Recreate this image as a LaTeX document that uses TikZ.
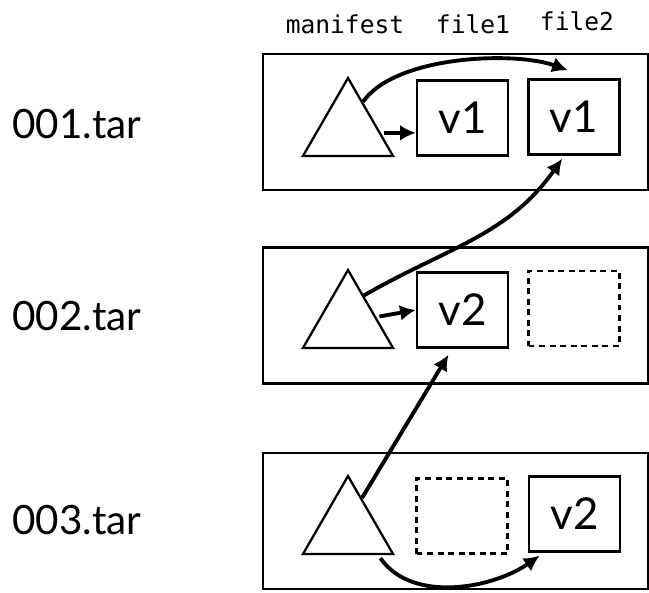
\documentclass[tikz,border=0pt]{standalone}
\usepackage{fontspec}
\setmainfont{Lato}
\setmonofont{DejaVu Sans Mono}
\usetikzlibrary{shapes.geometric,arrows.meta}

\tikzset{
  tarbox/.style={draw, line width=1.3pt, minimum width=7.7cm, minimum height=2.72cm, inner sep=0pt},
  manifest/.style={draw, line width=1.3pt, regular polygon, regular polygon sides=3, minimum size=2.08cm, inner sep=0pt},
  filebox/.style={draw, line width=1.3pt, minimum width=1.82cm, minimum height=1.5cm, inner sep=0pt, font=\fontsize{25}{30}\selectfont},
  emptybox/.style={filebox, line width=1.4pt, dash pattern=on 3.4pt off 2.6pt},
  tarname/.style={anchor=west, inner sep=0pt, font=\fontsize{23}{28}\selectfont},
  colname/.style={anchor=base, inner sep=0pt, font=\ttfamily\fontsize{14}{17}\selectfont},
  ref/.style={-{Latex[length=9pt,width=9pt]}, line width=2.2pt},
}

\begin{document}
\begin{tikzpicture}[x=0.02cm, y=-0.02cm]
  \useasboundingbox (0,0) rectangle (649,592);

  \node[colname] (cm) at (345,33) {manifest};
  \node[colname] (cf1) at (473,33) {file1};
  \node[colname] (cf2) at (577,30) {file2};

  \node[tarname] (n1) at (12,124) {001.tar};
  \node[tarname] (n2) at (12,316) {002.tar};
  \node[tarname] (n3) at (12,520) {003.tar};

  \node[tarbox] (tar1) at (455.5,122) {};
  \node[tarbox] (tar2) at (455.5,315.5) {};
  \node[tarbox] (tar3) at (455.5,521) {};

  \node[manifest] (m1) at (348,130) {};
  \node[manifest] (m2) at (348,322) {};
  \node[manifest] (m3) at (348,528) {};

  \node[filebox] (f11) at (462.5,118) {v1};
  \node[filebox] (f12) at (574,117) {v1};
  \node[filebox] (f21) at (462.5,310) {v2};
  \node[emptybox] (f22) at (574,308.5) {};
  \node[emptybox] (f31) at (462,516) {};
  \node[filebox] (f32) at (574.5,514) {v2};

  \draw[ref] (m1.62) to[out=55, in=160, looseness=0.7] ([xshift=-0.12cm, yshift=0.16cm]f12.north);
  \draw[ref, shorten <=0.06cm] (m1.-5) -- (m1.-5 -| f11.west);
  \draw[ref] (m2.59) to[out=30, in=-125] ([yshift=-0.06cm]f12.-107);
  \draw[ref, shorten <=0.06cm] (m2.10) -- (f21.west);
  \draw[ref, shorten >=0.14cm] (m3.65) -- (f21.-105);
  \draw[ref] ([yshift=-0.06cm]m3.-40) to[out=-55, in=-145, looseness=0.9] ([yshift=-0.06cm]f32.-132);
\end{tikzpicture}
\end{document}
